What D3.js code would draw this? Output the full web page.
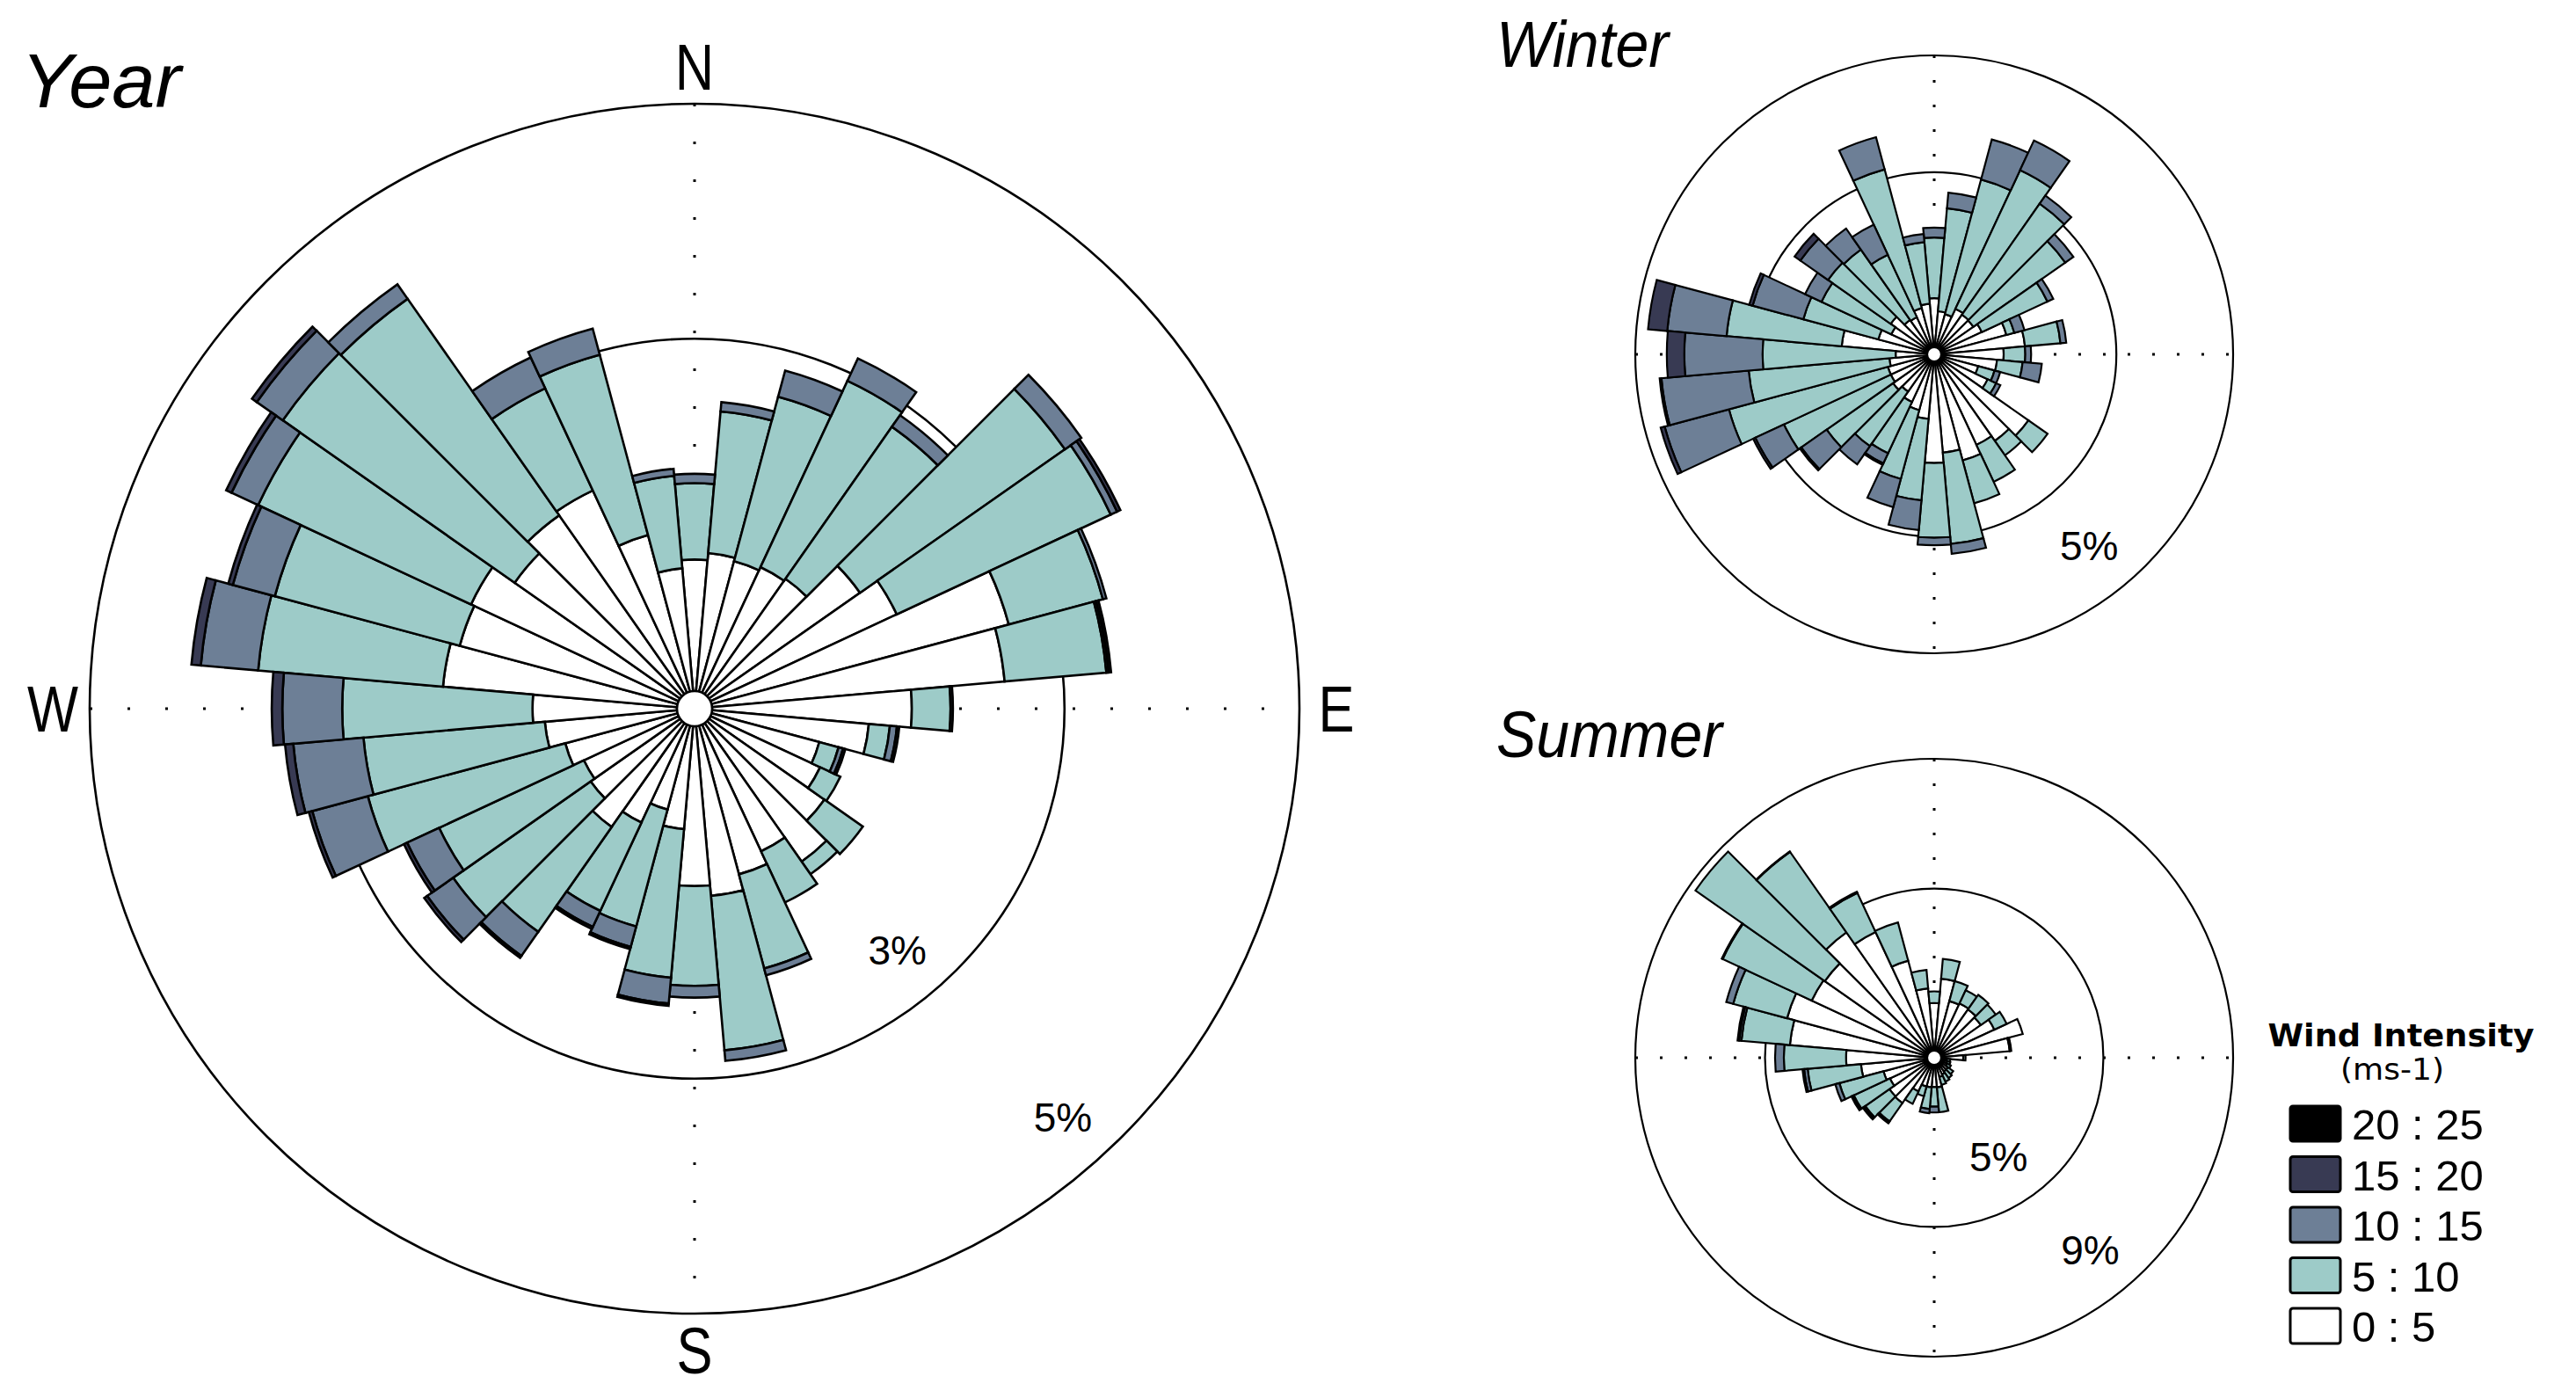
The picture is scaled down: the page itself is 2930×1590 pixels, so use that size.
<!DOCTYPE html>
<html>
<head>
<meta charset="utf-8">
<script src="https://cdn.jsdelivr.net/npm/d3@7"></script>
<style>
  body { margin: 0; background: #fff; }
  svg { display: block; }
  text { font-family: "Liberation Sans", Arial, sans-serif; fill: #000; }
</style>
</head>
<body>
<div id="chart"></div>
<script>
// wind directions (degrees, clockwise from north), one bar every 10 degrees
const directions = d3.range(0, 360, 10);

// speed classes (ms-1) and their fills
const speedClasses = ["20 : 25", "15 : 20", "10 : 15", "5 : 10", "0 : 5"];
const classColors = ["#000000", "#383a53", "#6d7f96", "#9dcbc8", "#ffffff"];

// frequencies (%) per direction, Year
const yr0_5   = [1.12,1.18,1.15,1.18,1.20,1.57,1.75,2.62,2.50,1.70,1.34,0.95,1.03,1.20,1.44,1.19,1.31,1.45,1.36,0.88,0.74,0.92,1.08,0.93,0.89,0.99,1.13,1.23,2.00,1.92,1.95,1.72,1.86,1.90,1.38,1.05];
const yr5_10  = [0.65,1.21,1.45,1.75,1.58,2.13,2.01,0.83,0.87,0.33,0.18,0.17,0.19,0.40,0.13,0.48,0.83,1.32,0.85,1.27,1.03,0.83,1.09,1.43,1.36,1.74,1.55,1.62,1.58,1.63,2.00,2.41,2.25,0.96,1.59,0.79];
const yr10_15 = [0.08,0.08,0.23,0.21,0.12,0.17,0.06,0.03,0.02,0.02,0.06,0.04,0,0,0,0,0.06,0.09,0.10,0.22,0.18,0.15,0.25,0.27,0.30,0.49,0.60,0.51,0.49,0.37,0.25,0.27,0.15,0.29,0.23,0.06];
const yr15_20 = [0,0,0,0,0,0,0.03,0,0.02,0,0.02,0.02,0,0,0,0,0,0,0,0.02,0.02,0.02,0.02,0.03,0.03,0.03,0.07,0.09,0.08,0.04,0.05,0.05,0,0,0,0];

// Winter
const wi0_5   = [0.84,0.62,0.59,0.74,0.71,0.70,0.78,1.16,1.44,1.07,0.96,0.66,0.89,1.85,1.69,1.59,1.76,1.57,1.74,0.99,0.87,0.78,0.66,0.74,0.70,0.70,0.65,0.54,1.47,0.87,0.69,0.79,0.60,0.58,0.70,0.75];
const wi5_10  = [1.04,1.77,2.39,2.62,2.32,1.92,1.24,0.14,0.61,0.37,0.44,0.29,0.16,0.40,0.30,0.70,0.76,1.57,1.28,1.40,1.22,0.97,1.14,1.39,2.02,2.82,2.42,2.28,1.98,1.33,1.32,1.31,1.47,1.18,2.46,1.06];
const wi10_15 = [0.17,0.27,0.71,0.56,0.17,0.17,0.11,0.18,0.10,0.10,0.33,0.10,0.08,0,0,0,0,0.17,0.13,0.51,0.50,0.19,0.38,0.53,0.54,1.14,1.50,1.34,1.02,0.90,0.31,0.58,0.44,0.57,0.57,0.14];
const wi15_20 = [0,0,0,0,0,0,0,0,0,0,0,0,0,0,0,0,0,0,0,0,0,0.03,0,0.03,0.04,0.07,0.03,0.30,0.33,0.06,0,0.12,0,0,0,0];

// Summer
const su0_5   = [1.47,2.23,1.59,1.63,1.60,1.54,1.83,2.61,2.12,0.68,0.18,0.20,0.22,0.30,0.30,0.35,0.40,0.70,0.69,0.70,0.70,0.93,1.49,1.47,1.29,1.40,2.05,2.50,4.25,4.48,3.95,3.90,4.50,4.06,2.88,1.93];
const su5_10  = [0.36,0.61,0.64,0.45,0.55,0.56,0.42,0,0.05,0.07,0.10,0.10,0.13,0.20,0.25,0.25,0.25,0.77,0.60,0.67,0.31,0.42,0.69,0.91,1.23,1.41,1.65,1.92,1.50,1.72,3.03,4.87,3.03,1.33,1.22,0.57];
const su10_15 = [0,0,0,0,0,0,0,0,0,0,0,0,0,0,0,0,0,0,0.18,0.13,0,0,0.05,0.06,0.05,0.13,0.11,0.27,0.07,0.22,0.03,0,0.02,0.04,0,0];
const su15_20 = [0,0,0,0,0,0,0,0,0,0,0,0,0,0,0,0,0,0,0,0,0,0,0.02,0.03,0.03,0,0.05,0,0.05,0,0,0,0,0,0,0];

// ring values (%), the ones that carry a label, and where the label sits (deg)
const yearRings = [3, 5],   yearLabels = [3, 5],   yearLabelDeg = [140, 138];
const winterRings = [3, 5], winterLabels = [5],    winterLabelDeg = [141];
const summerRings = [5, 9], summerLabels = [5, 9], summerLabelDeg = [147, 141];

const width = 2930, height = 1590;

const svg = d3.select("#chart")
    .append("svg")
    .attr("width", width)
    .attr("height", height);

svg.append("rect").attr("width", width).attr("height", height).attr("fill", "#fff");

const roses = [
    { title: "Year", tx: 24, ty: 122, tsize: 88, tlen: 182, cx: 790, cy: 806, outer: 688, hole: 20,
      max: 5, rings: yearRings, labels: yearLabels, labelDeg: yearLabelDeg,
      series: [yr0_5, yr5_10, yr10_15, yr15_20],
      sw: 2.6, dash: "3 40", labelOff: 62, compass: true },
    { title: "Winter", tx: 1702, ty: 76, tsize: 74, tlen: 196, cx: 2200, cy: 403, outer: 340, hole: 8,
      max: 5, rings: winterRings, labels: winterLabels, labelDeg: winterLabelDeg,
      series: [wi0_5, wi5_10, wi10_15, wi15_20],
      sw: 2.2, dash: "3 25", labelOff: 60, compass: false },
    { title: "Summer", tx: 1702, ty: 861, tsize: 74, tlen: 257, cx: 2200, cy: 1203, outer: 340, hole: 8,
      max: 9, rings: summerRings, labels: summerLabels, labelDeg: summerLabelDeg,
      series: [su0_5, su5_10, su10_15, su15_20],
      sw: 2.2, dash: "3 25", labelOff: 58, compass: false }
];

const rad = deg => deg * Math.PI / 180;

function drawRose(rose) {
    const g = svg.append("g").attr("transform", `translate(${rose.cx},${rose.cy})`);
    const r = d3.scaleLinear().domain([0, rose.max]).range([rose.hole, rose.outer]);
    const R = r(rose.max);

    // reference rings
    g.selectAll("circle.ring")
        .data(rose.rings)
        .join("circle")
        .attr("class", "ring")
        .attr("r", d => r(d))
        .attr("fill", "none")
        .attr("stroke", "#000")
        .attr("stroke-width", rose.sw);

    // dotted N-S and E-W axes
    g.selectAll("line.axis")
        .data([0, 90])
        .join("line")
        .attr("class", "axis")
        .attr("x1", a => -R * Math.sin(rad(a)))
        .attr("y1", a => -R * Math.cos(rad(a)))
        .attr("x2", a => R * Math.sin(rad(a)))
        .attr("y2", a => R * Math.cos(rad(a)))
        .attr("stroke", "#000")
        .attr("stroke-width", 3)
        .attr("stroke-dasharray", rose.dash);

    // stacked sectors, from the calm class outwards
    const rows = directions.map((dir, i) => {
        const row = { dir };
        rose.series.forEach((s, k) => row["c" + k] = s[i]);
        return row;
    });
    const keys = rose.series.map((s, k) => "c" + k);
    const stacked = d3.stack().keys(keys)(rows);

    const arc = d3.arc()
        .innerRadius(d => r(d[0]))
        .outerRadius(d => r(d[1]))
        .startAngle(d => rad(d.data.dir - 5))
        .endAngle(d => rad(d.data.dir + 5));

    stacked.forEach((layer, k) => {
        g.append("g")
            .selectAll("path")
            .data(layer.filter(d => d[1] > d[0]))
            .join("path")
            .attr("d", arc)
            .attr("fill", classColors[classColors.length - 1 - k])
            .attr("stroke", "#000")
            .attr("stroke-width", rose.sw)
            .attr("stroke-linejoin", "miter");
    });

    // centre hole
    g.append("circle")
        .attr("r", rose.hole)
        .attr("fill", "#fff")
        .attr("stroke", "#000")
        .attr("stroke-width", rose.sw);

    // ring labels, toward the south-east
    g.selectAll("text.pct")
        .data(rose.labels)
        .join("text")
        .attr("class", "pct")
        .attr("x", (d, i) => (r(d) - rose.labelOff) * Math.sin(rad(rose.labelDeg[i])))
        .attr("y", (d, i) => -(r(d) - rose.labelOff) * Math.cos(rad(rose.labelDeg[i])))
        .attr("text-anchor", "middle")
        .attr("dominant-baseline", "central")
        .style("font-size", "46px")
        .text(d => d + "%");

    if (rose.compass) {
        const pts = [["N", 0], ["E", 90], ["S", 180], ["W", 270]];
        g.selectAll("text.compass")
            .data(pts)
            .join("text")
            .attr("class", "compass")
            .attr("transform", d => `translate(${(R + 42) * Math.sin(rad(d[1]))},${-(R + 42) * Math.cos(rad(d[1]))}) scale(0.82,1)`)
            .attr("text-anchor", "middle")
            .attr("dominant-baseline", "central")
            .style("font-size", "75px")
            .text(d => d[0]);
    }

    svg.append("text")
        .attr("x", rose.tx)
        .attr("y", rose.ty)
        .attr("textLength", rose.tlen)
        .attr("lengthAdjust", "spacingAndGlyphs")
        .style("font-size", rose.tsize + "px")
        .style("font-style", "italic")
        .text(rose.title);
}

roses.forEach(drawRose);

// legend
const legend = svg.append("g").attr("transform", "translate(2605,1140)");

legend.append("text")
    .attr("x", 126)
    .attr("y", 50)
    .attr("text-anchor", "middle")
    .attr("textLength", 303)
    .attr("lengthAdjust", "spacingAndGlyphs")
    .style("font-family", "'DejaVu Sans', sans-serif")
    .style("font-weight", "bold")
    .style("font-size", "36px")
    .text("Wind Intensity");

legend.append("text")
    .attr("x", 116)
    .attr("y", 88)
    .attr("text-anchor", "middle")
    .attr("textLength", 118)
    .attr("lengthAdjust", "spacingAndGlyphs")
    .style("font-family", "'DejaVu Sans', sans-serif")
    .style("font-size", "34px")
    .text("(ms-1)");

const item = legend.selectAll("g.item")
    .data(speedClasses)
    .join("g")
    .attr("class", "item")
    .attr("transform", (d, i) => `translate(0,${118 + i * 57.5})`);

item.append("rect")
    .attr("width", 57)
    .attr("height", 40)
    .attr("rx", 3)
    .attr("fill", (d, i) => classColors[i])
    .attr("stroke", "#000")
    .attr("stroke-width", 3);

item.append("text")
    .attr("x", 70)
    .attr("y", 38)
    .style("font-size", "49px")
    .text(d => d);
</script>
</body>
</html>
